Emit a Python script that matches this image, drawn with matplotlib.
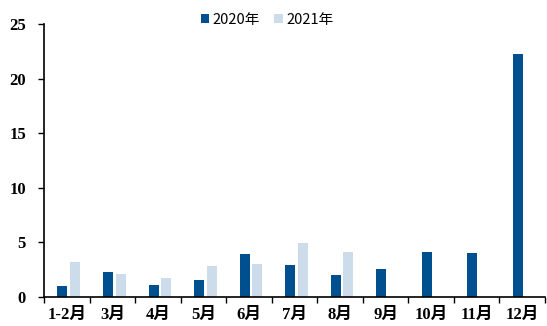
import matplotlib.pyplot as plt
import numpy as np

months = ['1-2月', '3月', '4月', '5月', '6月', '7月', '8月', '9月', '10月', '11月', '12月']
y2020 = [1.0, 2.3, 1.1, 1.55, 3.95, 2.95, 2.0, 2.55, 4.1, 4.05, 22.25]
y2021 = [3.2, 2.1, 1.7, 2.8, 3.05, 4.95, 4.1, np.nan, np.nan, np.nan, np.nan]

fig = plt.figure(figsize=(5.47, 3.26), dpi=100)
ax = fig.add_axes([44 / 547, 29 / 326, 501 / 547, 273 / 326])

x = np.arange(len(months))
w = 0.22
ax.bar(x - 0.02 - w / 2 + 0.035, y2020, w, color='#00508f', label='2020年')
ax.bar(x + 0.035 + w / 2 + 0.035, y2021, w, color='#cddcea', label='2021年')

ax.set_xlim(-0.5, len(months) - 0.5)
ax.set_ylim(0, 25)
ax.set_yticks([0, 5, 10, 15, 20, 25])
ax.set_xticks(x)
ax.set_xticklabels(months)
ax.set_xticks(np.arange(-0.5, len(months), 1), minor=True)
ax.tick_params(axis='x', which='major', length=0, pad=7)
ax.tick_params(axis='x', which='minor', length=4, width=1, direction='out')
ax.tick_params(axis='y', length=4, width=1, direction='out', pad=9)

for lab in ax.get_xticklabels() + ax.get_yticklabels():
    lab.set_family(['Liberation Serif', 'Noto Sans CJK SC'])
    lab.set_fontweight('bold')
    lab.set_fontsize(12)

for s in ['top', 'right']:
    ax.spines[s].set_visible(False)
for s in ['left', 'bottom']:
    ax.spines[s].set_linewidth(1.2)
    ax.spines[s].set_color('black')

leg = ax.legend(loc='upper center', bbox_to_anchor=(0.445, 1.09), ncol=2, frameon=False,
                prop={'family': ['Noto Sans CJK SC', 'DejaVu Sans'], 'size': 10.5},
                handlelength=0.6, handleheight=0.6, handletextpad=0.2, columnspacing=1.0)

fig.savefig('out.png', dpi=100)
